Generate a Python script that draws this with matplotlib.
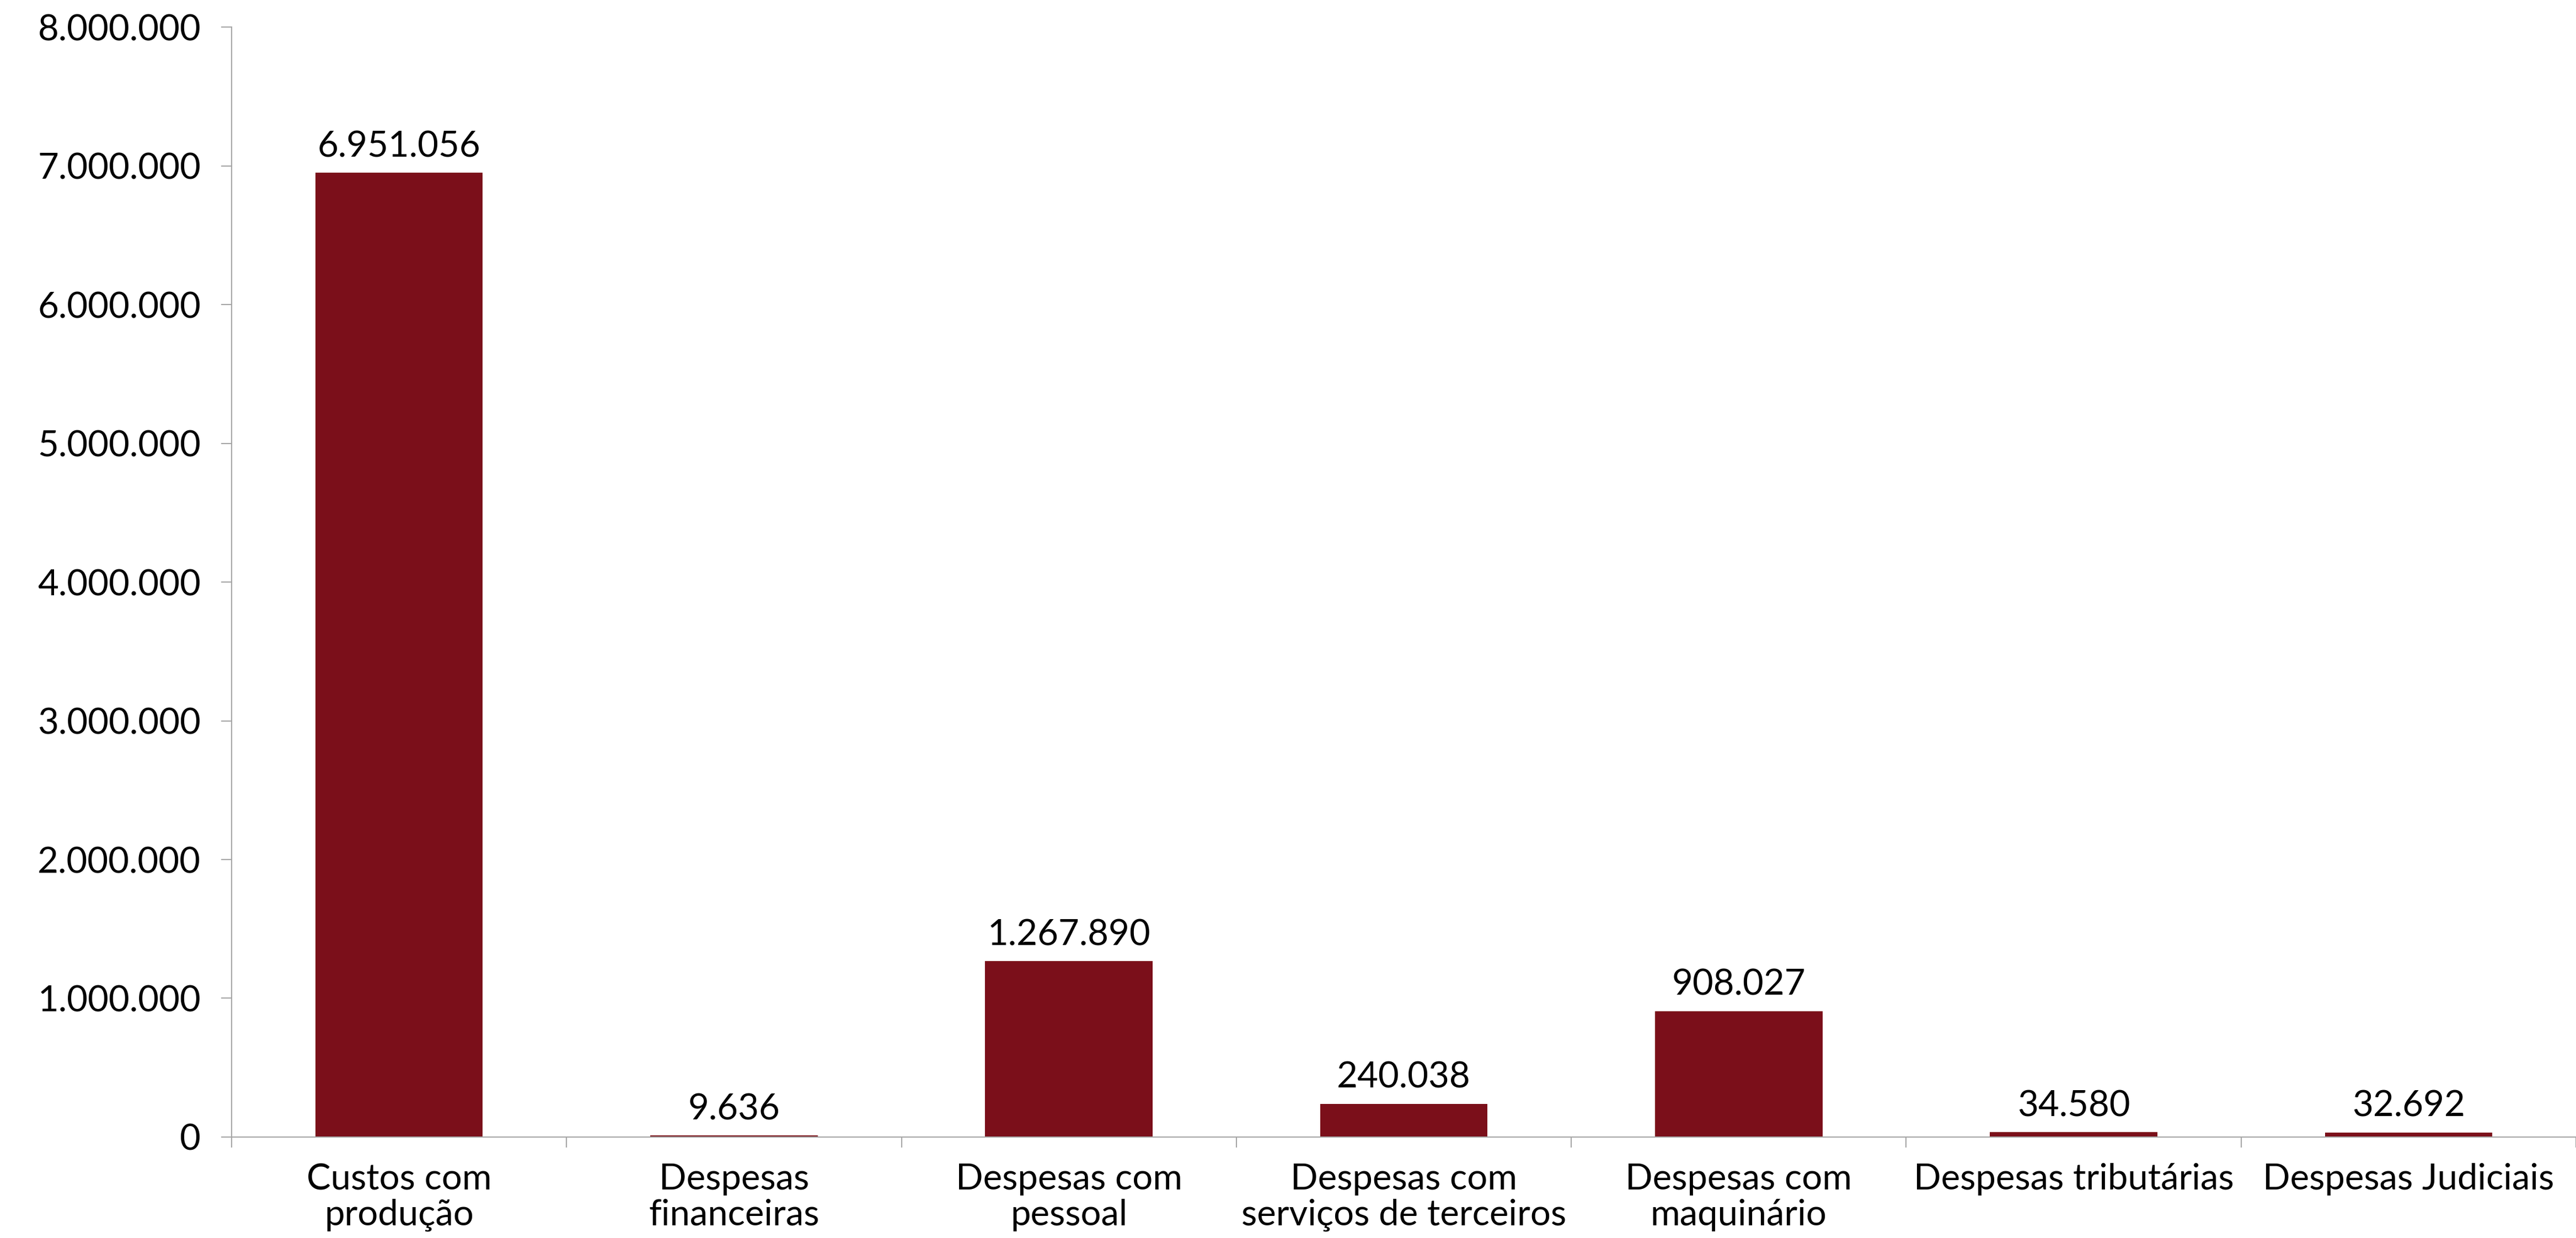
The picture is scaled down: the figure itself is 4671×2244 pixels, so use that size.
import matplotlib
matplotlib.use('Agg')
import matplotlib.pyplot as plt
from matplotlib.ticker import FuncFormatter, FixedLocator

plt.rcParams['font.family'] = ['Lato', 'DejaVu Sans']

categorias = ['Custos com\nprodução', 'Despesas\nfinanceiras', 'Despesas com\npessoal',
              'Despesas com\nserviços de terceiros', 'Despesas com\nmaquinário',
              'Despesas tributárias', 'Despesas Judiciais']
valores = [6951056, 9636, 1267890, 240038, 908027, 34580, 32692]
yticks = [0, 1000000, 2000000, 3000000, 4000000, 5000000, 6000000, 7000000, 8000000]

cor_barra = '#7B0F1A'
cor_eixo = '#A6A6A6'
fs = 47


def fmt_br(v):
    # separador de milhar com ponto
    return f'{int(v):,}'.replace(',', '.')


fig = plt.figure(figsize=(46.71, 22.44), dpi=100)
ax = fig.add_axes([0.0899, 0.0816, 0.9101, 0.8964])

x = list(range(len(categorias)))
barras = ax.bar(x, valores, width=0.5, color=cor_barra, zorder=2)

for b, v in zip(barras, valores):
    ax.annotate(fmt_br(v), (b.get_x() + b.get_width() / 2, v),
                xytext=(0, 13), textcoords='offset points',
                ha='center', va='bottom', fontsize=fs, color='black')

ax.set_xlim(-0.5, len(categorias) - 0.5)
ax.set_ylim(0, 8000000)
ax.set_yticks(yticks)
ax.yaxis.set_major_formatter(FuncFormatter(lambda v, p: fmt_br(v)))

ax.set_xticks(x)
ax.set_xticklabels(categorias, fontsize=fs, linespacing=1.12)
ax.xaxis.set_minor_locator(FixedLocator([i - 0.5 for i in range(len(categorias) + 1)]))

for s in ['top', 'right']:
    ax.spines[s].set_visible(False)
for s in ['left', 'bottom']:
    ax.spines[s].set_color(cor_eixo)
    ax.spines[s].set_linewidth(1.5)

ax.tick_params(axis='y', labelsize=fs, length=14, width=1.5, color=cor_eixo, pad=26)
ax.tick_params(axis='x', which='major', length=0, pad=34)
ax.tick_params(axis='x', which='minor', length=14, width=1.5, color=cor_eixo)

fig.savefig('out.png', dpi=100)
